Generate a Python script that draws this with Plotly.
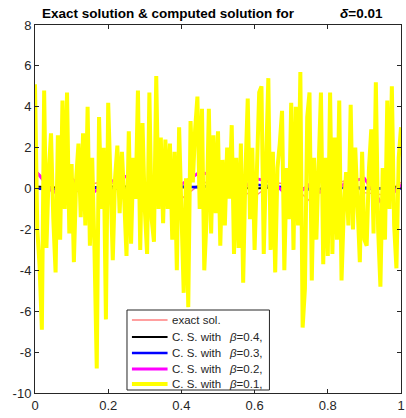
import numpy as np
import plotly.graph_objects as go

# Computed solution with beta = 0.1 (fine grid, 161 nodes on [0, 1])
cs_b01 = [
    5.1, -2.0, -3.8, -6.9, 4.8, -2.9, 0.8, 2.7, -1.5, -4.1,
    2.6, -2.5, 4.3, -1.0, 4.7, -2.2, 1.2, -3.6, 0.5, 2.2,
    -1.4, 2.7, -1.8, 4.0, -2.8, 1.5, -3.0, -8.8, 3.5, -1.0,
    2.0, -6.4, 4.2, 1.0, -3.5, 0.5, 2.1, -1.2, 1.8, -0.5,
    -3.3, 2.8, -2.7, 1.5, -0.5, 4.8, -3.0, 3.2, -1.0, -3.2,
    4.7, -1.5, -2.6, 5.5, -1.0, 2.5, -1.7, 2.4, -1.0, 2.2,
    -2.5, 1.8, -4.0, 3.0, -1.5, -5.1, 0.5, -5.8, 3.3, 0.3,
    2.9, 4.5, -1.0, 3.9, -4.0, -1.5, 3.9, -2.2, 2.6, -1.2,
    2.8, -2.8, 1.4, -1.8, 2.0, -0.5, 3.1, -3.2, 1.5, -2.9,
    2.2, -4.6, 0.8, 4.4, -1.5, 2.0, -3.0, 1.0, 4.7, 5.0,
    -3.2, 1.2, 5.4, -3.0, 1.8, -4.1, 1.0, 2.2, 3.8, -4.0,
    1.0, -1.5, 4.2, -3.0, 4.0, -1.8, 5.7, -6.8, -4.9, 3.5,
    4.7, -4.5, 1.5, -2.5, 0.8, 4.7, -3.7, 1.5, -3.3, 4.7,
    -3.2, 2.5, -2.5, 4.3, -4.5, -1.0, 0.8, -1.8, 4.1, -2.0,
    2.0, -1.0, -3.6, 1.8, -2.5, -2.8, 1.0, 2.9, -2.2, 5.2,
    -2.0, -4.8, 1.0, -2.5, 4.3, -1.0, 5.0, -1.8, -3.9, 1.5,
    3.0,
]

# Coarse-grid curves (21 nodes on [0, 1])
exact_sol = [0.9, 0.1, -0.3, 0.2, 0.4, -0.2, 0.3, 0.1, -0.5, 0.2,
             0.5, 0.0, -0.4, 0.3, 0.2, -0.6, 0.1, 0.4, -0.2, -0.3, 0.3]
cs_b04 = [0.1, 0.05, 0.0, 0.05, 0.1, 0.1, 0.05, 0.0, 0.05, 0.1,
          0.1, 0.05, 0.0, 0.05, 0.05, 0.0, 0.0, 0.05, 0.05, 0.0, 0.1]
cs_b03 = [0.0, -0.05, 0.0, 0.05, 0.0, 0.0, 0.05, 0.1, 0.1, 0.05,
          0.2, 0.25, 0.2, 0.1, 0.05, -0.05, -0.05, 0.05, 0.0, 0.0, 0.0]
cs_b02 = [0.9, -0.2, 0.5, -0.3, 0.3, 0.6, -0.4, 0.4, 0.2, 0.8,
          0.6, -0.3, 0.5, 0.3, -0.5, 0.2, -0.4, 0.3, 0.5, -0.8, 0.2]

x_fine = np.linspace(0, 1, len(cs_b01))
x_coarse = np.linspace(0, 1, len(exact_sol))

x_ticks = [0, 0.2, 0.4, 0.6, 0.8, 1]
y_ticks = [-10, -8, -6, -4, -2, 0, 2, 4, 6, 8]

FONT = "Liberation Sans, Arial, Helvetica, sans-serif"
INK = "#262626"

# (label, beta text, colour, width) for each curve, in drawing order
series = [
    ("exact sol.", "", "#ff7f7f", 1.5, x_coarse, exact_sol),
    ("C. S. with", "<i>β</i>=0.4,", "black", 2, x_coarse, cs_b04),
    ("C. S. with", "<i>β</i>=0.3,", "blue", 2.5, x_coarse, cs_b03),
    ("C. S. with", "<i>β</i>=0.2,", "magenta", 3, x_coarse, cs_b02),
    ("C. S. with", "<i>β</i>=0.1,", "yellow", 4, x_fine, cs_b01),
]

fig = go.Figure()
for label, beta, color, width, xs, ys in series:
    fig.add_trace(go.Scatter(x=xs, y=ys, mode="lines", showlegend=False,
                             line=dict(color=color, width=width),
                             name=(label + " " + beta).strip()))

axis_common = dict(
    showgrid=False, zeroline=False, showline=True, linecolor=INK,
    linewidth=1, mirror="ticks", ticks="inside", ticklen=4, tickcolor=INK,
    tickfont=dict(family=FONT, size=13, color=INK),
    ticklabeloverflow="allow",
)

# Legend box drawn in paper coordinates (plot area: 370 x 368 px)
PW, PH = 370.0, 368.0
def px_x(px):
    return (px - 35) / PW
def px_y(py):
    return (393 - py) / PH

shapes = [dict(type="rect", xref="paper", yref="paper",
               x0=px_x(128), x1=px_x(272), y0=px_y(390), y1=px_y(310),
               fillcolor="white", line=dict(color=INK, width=1), layer="above")]
annotations = [
    dict(text="<b>Exact solution &amp; computed solution for</b>",
         xref="paper", yref="paper", x=px_x(40), y=1.0, xanchor="left",
         yanchor="bottom", yshift=2, showarrow=False,
         font=dict(family=FONT, size=13.5, color="black")),
    dict(text="<b><i>δ</i>=0.01</b>",
         xref="paper", yref="paper", x=px_x(389), y=1.0, xanchor="right",
         yanchor="bottom", yshift=2, showarrow=False,
         font=dict(family=FONT, size=13.5, color="black")),
]
row_y = [320, 337, 353, 369, 384]
for (label, beta, color, width, _, _), ry in zip(series, row_y):
    shapes.append(dict(type="line", xref="paper", yref="paper",
                       x0=px_x(133), x1=px_x(169), y0=px_y(ry), y1=px_y(ry),
                       line=dict(color=color, width=width), layer="above"))
    annotations.append(dict(text=label, xref="paper", yref="paper",
                            x=px_x(171), y=px_y(ry), xanchor="left",
                            yanchor="middle", showarrow=False,
                            font=dict(family=FONT, size=11.5, color=INK)))
    if beta:
        annotations.append(dict(text=beta, xref="paper", yref="paper",
                                x=px_x(229), y=px_y(ry), xanchor="left",
                                yanchor="middle", showarrow=False,
                                font=dict(family=FONT, size=11.5, color=INK)))

fig.update_layout(
    width=406, height=418,
    margin=dict(l=35, r=1, t=25, b=25),
    paper_bgcolor="white", plot_bgcolor="white",
    font=dict(family=FONT, color=INK),
    xaxis=dict(range=[0, 1], tickvals=x_ticks,
               ticktext=[f"{v:g}" for v in x_ticks], **axis_common),
    yaxis=dict(range=[-10, 8], tickvals=y_ticks,
               ticktext=[str(v) for v in y_ticks], **axis_common),
    showlegend=False,
    shapes=shapes,
    annotations=annotations,
)

fig.write_html("out.html")
